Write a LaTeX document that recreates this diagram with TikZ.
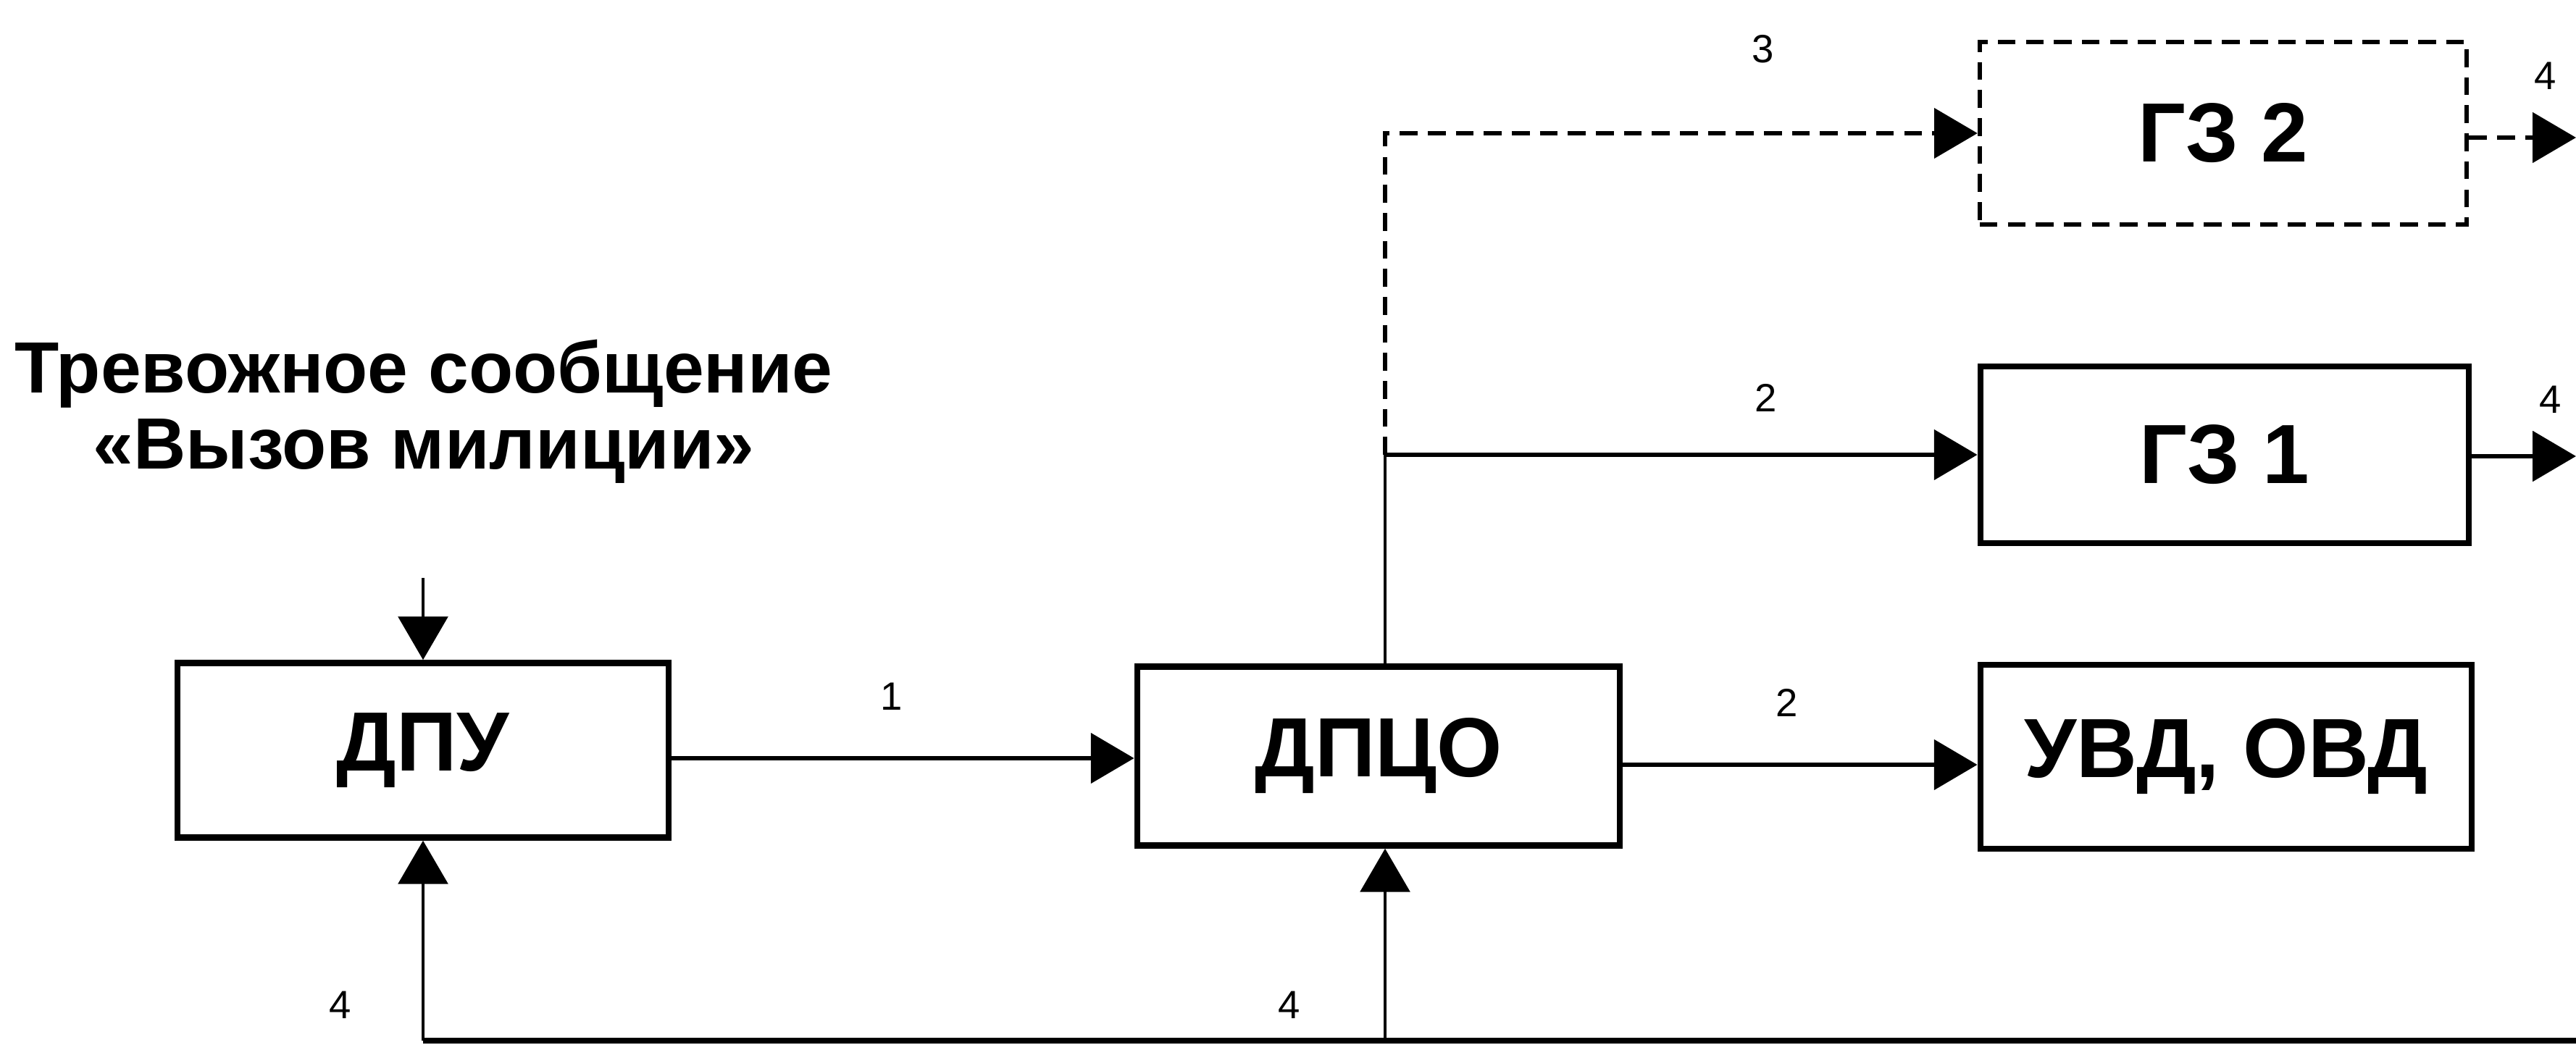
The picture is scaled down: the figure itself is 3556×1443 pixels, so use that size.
\documentclass[tikz,border=0pt]{standalone}
\usepackage{fontspec}
\setmainfont{Liberation Sans}
\usetikzlibrary{arrows.meta}
\begin{document}
\begin{tikzpicture}[x=0.01cm,y=-0.01cm,
  box/.style={draw, line width=2.4pt, rectangle, inner sep=0pt,
    font=\bfseries\fontsize{33}{38}\selectfont},
  dbox/.style={box, line width=1.7pt, dash pattern=on 7pt off 4pt},
  tip/.style={-{Triangle[length=17pt,width=19.5pt]}},
  conn/.style={line width=1.9pt, tip},
  thinconn/.style={line width=1.1pt, tip},
  dconn/.style={line width=1.7pt, dash pattern=on 7pt off 4pt, tip},
  lbl/.style={inner sep=0pt, font=\fontsize{15.5}{18}\selectfont},
]
\useasboundingbox (0,0) rectangle (3556,1443);

% blocks
\node[box, minimum width=6.78cm, minimum height=2.41cm] (dpu)  at (584,1036) {ДПУ};
\node[box, minimum width=6.66cm, minimum height=2.47cm] (dpco) at (1903,1044) {ДПЦО};
\node[box, minimum width=6.78cm, minimum height=2.54cm] (uvd)  at (3073,1045) {УВД, ОВД};
\node[box, minimum width=6.74cm, minimum height=2.44cm] (gz1)  at (3071,628) {ГЗ 1};
\node[dbox, minimum width=6.72cm, minimum height=2.52cm] (gz2) at (3069,184) {ГЗ 2};

% incoming message
\node[align=center, inner sep=0pt, anchor=north,
  font=\bfseries\fontsize{28.5}{30}\selectfont] (msg) at (585,468)
  {Тревожное сообщение\\«Вызов милиции»};
\coordinate (in) at (584,798);
\draw[thinconn] (in) -- (dpu.north);

% 1: ДПУ -> ДПЦО
\coordinate (a1) at (923,1047);
\draw[conn] (dpu.east |- a1) -- (dpco.west |- a1);
\node[lbl] (l1) at (1231,962) {1};

% 2: ДПЦО -> УВД, ОВД
\coordinate (a2) at (2236,1056);
\draw[conn] (dpco.east |- a2) -- (uvd.west |- a2);
\node[lbl] (l2b) at (2467,970) {2};

% branch to ГЗ 1 and ГЗ 2
\coordinate (br) at (1912,628);
\draw[line width=1.1pt] (dpco.north -| br) -- (br);
\draw[conn] (br) -- (gz1.west);
\node[lbl] (l2a) at (2438,549) {2};
\draw[dconn] (br) |- (gz2.west);
\node[lbl] (l3) at (2434,68) {3};

% outputs 4 from ГЗ
\coordinate (o2) at (3556,190);
\draw[dconn] (gz2.east |- o2) -- (o2);
\node[lbl] (l4a) at (3514,105) {4};
\coordinate (o1) at (3556,630);
\draw[conn] (gz1.east |- o1) -- (o1);
\node[lbl] (l4b) at (3521,552) {4};

% feedback 4 along the bottom
\coordinate (bl) at (584,1437);
\coordinate (bend) at (3556,1437);
\draw[line width=2.4pt] (bend) -- (bl);
\draw[thinconn] (bl) -- (dpu.south);
\draw[thinconn] (bl -| br) -- (dpco.south -| br);
\node[lbl] (l4c) at (470,1388) {4};
\node[lbl] (l4d) at (1780,1388) {4};
\end{tikzpicture}
\end{document}
